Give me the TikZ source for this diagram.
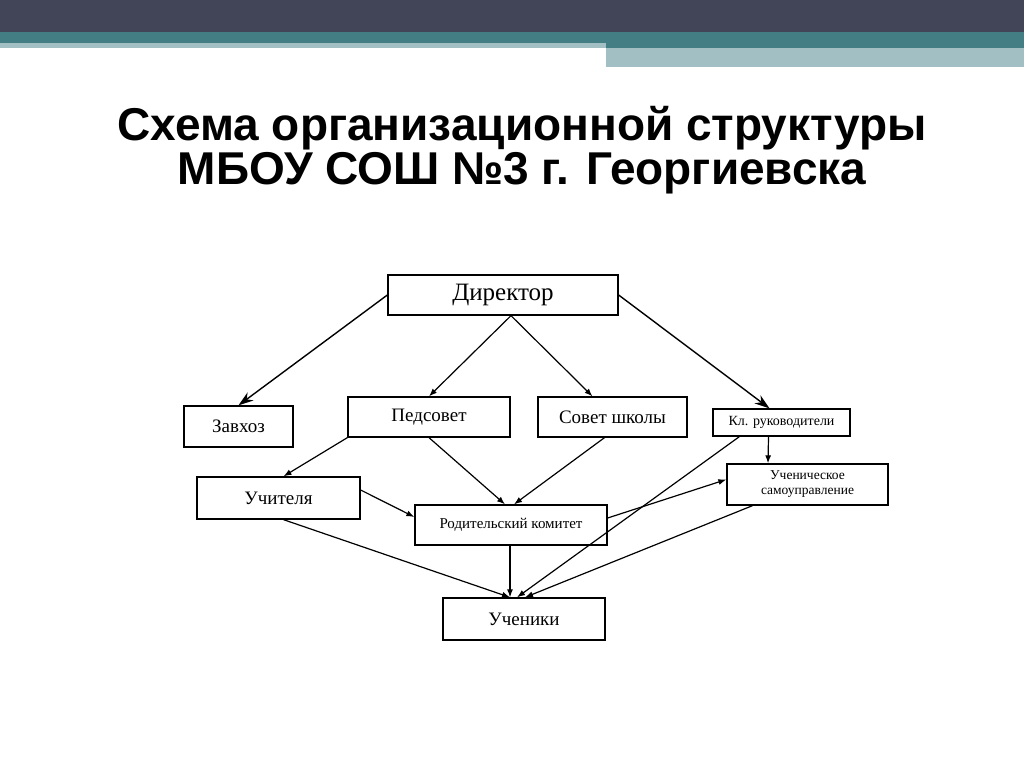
\documentclass[tikz,border=0pt]{standalone}
\usepackage{fontspec}
\setmainfont{Liberation Serif}
\setsansfont{Liberation Sans}
\usetikzlibrary{arrows.meta, positioning}

\definecolor{bardark}{RGB}{66,68,88}
\definecolor{barteal}{RGB}{66,126,132}
\definecolor{barlight}{RGB}{162,192,196}

\begin{document}
\begin{tikzpicture}[
		x=1pt, y=-1pt,
		unit/.style={rectangle, draw=black, line width=1.3pt, fill=white, inner sep=0pt, font=\fontsize{19}{21}\selectfont},
		link/.style={-{Latex[length=8pt, width=6pt]}, line width=1.2pt},
		boss link/.style={-{Stealth[length=15pt, width=10pt]}, line width=1.4pt}
		]
		\useasboundingbox (0,0) rectangle (1024,767);
		\fill [white] (0,0) rectangle (1024,767);
		% header bars
		\fill [bardark] (0,0) rectangle (1024,32);
		\fill [barteal] (0,32) rectangle (1024,48);
		\fill [barlight] (0,43) rectangle (606,48);
		\fill [barlight] (606,48) rectangle (1024,67);
		
		\node [font=\sffamily\bfseries\fontsize{46}{44}\selectfont, align=center] (title) at (522,150)
			{Схема организационной структуры\\МБОУ СОШ №3 г. Георгиевска};
		
		\node [unit, minimum width=230pt, minimum height=40pt, font=\fontsize{25}{27}\selectfont] (director) at (503,295) {Директор};
		\node [unit, minimum width=109pt, minimum height=41pt] (zavhoz) at (238.5,426.5) {Завхоз};
		\node [unit, minimum width=162pt, minimum height=40pt] (pedsovet) at (429,417) {Педсовет};
		\node [unit, minimum width=149pt, minimum height=40pt] (school council) at (612.5,417) {Совет школы};
		\node [unit, minimum width=137pt, minimum height=27pt, font=\fontsize{14}{16}\selectfont] (class heads) at (781.5,422.5) {Кл. руководители};
		\node [unit, minimum width=163pt, minimum height=42pt] (teachers) at (278.5,498) {Учителя};
		\node [unit, minimum width=161pt, minimum height=41pt, align=center, font=\fontsize{13.5}{15}\selectfont] (self rule) at (807.5,484.5) {Ученическое\\самоуправление};
		\node [unit, minimum width=192pt, minimum height=40pt, font=\fontsize{15}{17}\selectfont] (parents) at (511,525) {Родительский комитет};
		\node [unit, minimum width=162pt, minimum height=42pt] (pupils) at (524,619) {Ученики};
		
		\draw [boss link] (director.west) to (zavhoz.north);
		\draw [link] ([xshift=8pt]director.south) to (pedsovet.north);
		\draw [link] ([xshift=8pt]director.south) to ([xshift=-20pt]school council.north);
		\draw [boss link] (director.east) to ([xshift=-12pt]class heads.north);
		
		\draw [link] (pedsovet.south west) to ([xshift=5pt]teachers.north);
		\draw [link] (pedsovet.south) to ([xshift=-6pt]parents.north);
		\draw [link] ([xshift=-8pt]school council.south) to ([xshift=3pt]parents.north);
		\draw [link] ([yshift=8pt]teachers.east) to ([yshift=8pt]parents.west);
		\draw [link] ([xshift=5pt]teachers.south) to ([xshift=-14pt]pupils.north);
		\draw [link] ([xshift=-1pt]parents.south) to ([xshift=-14pt]pupils.north);
		\draw [link] ([yshift=7pt]parents.east) to ([yshift=5pt]self rule.west);
		\draw [link] ([xshift=27pt]class heads.south west) to ([xshift=-7pt]pupils.north);
		\draw [link] ([xshift=-13pt]class heads.south) to ([xshift=-39.5pt]self rule.north);
		\draw [link] ([xshift=-55pt]self rule.south) to ([xshift=1pt]pupils.north);
	\end{tikzpicture}
\end{document}
